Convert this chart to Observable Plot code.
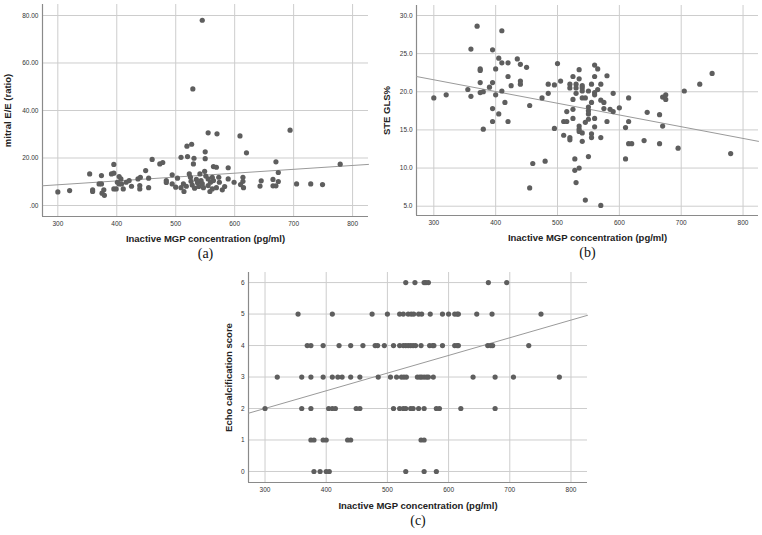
<!DOCTYPE html>
<html><head><meta charset="utf-8">
<script src="https://cdn.jsdelivr.net/npm/d3@7"></script>
<script src="https://cdn.jsdelivr.net/npm/@observablehq/plot@0.6"></script>
<style>
html,body{margin:0;padding:0;background:#fff;}
#root{position:relative;width:762px;height:535px;overflow:hidden;background:#fff;}
.panel{position:absolute;}
</style></head><body><div id="root"></div>
<script>
// ---------- Data ----------
const xLabel = "Inactive MGP concentration (pg/ml)";
const xTicks = [300, 400, 500, 600, 700, 800];

// Panel (a): mitral E/E' vs inactive MGP
const mgpA = [300,320,354,359,359,370,374,374,378,375,379,391,395,395,395,399,401,404,407,404,408,411,416,421,425,436,440,439,439,449,454,454,460,473,478,484,484,494,494,500,503,509,509,514,513,518,519,520,523,525,527,529,530,531,526,528,532,535,537,539,541,543,545,545,547,549,550,550,551,555,555,555,558,559,562,562,564,564,569,569,570,573,574,579,583,589,589,599,609,610,614,614,615,620,643,645,665,665,670,670,674,674,694,705,729,749,779];
const eeA = [5.7,6.3,13.3,6.6,5.9,9.1,9.1,12.6,6.6,5.2,4.3,13.3,13.6,17.3,7.0,7.0,9.8,12.2,11.2,9.1,9.1,7.0,9.8,10.5,8.1,11.2,11.9,8.4,7.0,14.7,11.5,7.5,19.4,17.5,18.1,10.5,9.7,12.9,9.1,7.7,11.5,7.5,20.3,5.9,9.1,8.1,25.0,20.6,13.3,11.9,25.8,49.1,17.5,19.9,10.2,8.6,7.3,11.0,9.6,8.0,13.3,10.5,78.0,9.2,7.5,14.4,22.6,19.7,12.4,30.6,11.2,8.4,5.9,9.8,11.9,7.0,10.5,16.4,16.1,7.5,30.2,11.9,9.8,6.6,8.0,15.9,11.2,9.8,29.3,8.8,10.2,11.9,7.5,22.2,8.2,10.4,11.0,8.3,8.3,18.4,13.9,10.1,31.7,9.1,9.1,8.8,17.4];
const fitAx = [274, 827];
const fitAy = [8.3, 17.3];
const yTicksA = [0, 20, 40, 60, 80];

// Panel (b): STE GLS% vs inactive MGP
const mgpB = [300,320,355,360,360,370,375,375,375,375,380,380,390,395,395,395,395,400,400,405,405,410,410,410,415,420,420,420,425,435,440,440,440,450,455,455,460,475,480,485,485,495,495,500,505,510,510,515,515,520,520,520,520,525,525,525,525,528,528,530,530,530,530,535,535,535,535,535,535,540,540,540,540,540,540,545,545,545,550,550,550,550,550,550,555,555,555,555,560,560,560,560,560,560,565,565,570,570,570,570,575,575,580,580,585,590,590,600,610,610,615,615,615,620,640,645,665,665,670,670,675,675,695,705,730,750,780];
const glsB = [19.2,19.6,20.3,25.6,19.4,28.6,23.0,22.8,21.2,19.9,20.0,15.1,20.6,25.5,21.2,17.8,16.1,23.0,19.6,24.4,17.1,28.0,23.8,20.1,18.6,23.8,22.0,16.1,20.8,24.3,23.6,21.4,21.0,23.2,18.2,7.4,10.6,19.2,10.9,21.0,19.8,20.9,15.2,23.7,21.4,14.3,16.1,17.4,16.1,21.0,20.5,14.0,13.7,22.0,19.0,16.5,17.7,11.2,9.7,21.0,20.5,19.8,8.1,22.9,21.7,15.5,15.1,14.8,10.0,20.8,20.5,20.1,19.2,14.6,13.5,19.2,16.0,5.8,18.0,17.5,17.1,20.1,16.4,11.5,21.0,18.6,14.5,14.0,23.5,22.0,19.9,19.6,16.5,15.4,23.0,20.3,21.0,18.9,14.0,5.1,18.6,17.8,22.1,16.1,17.7,19.8,17.4,17.9,15.3,11.2,19.2,16.1,13.2,13.2,13.6,17.3,17.0,13.2,19.3,15.5,19.6,19.0,12.6,20.1,21.0,22.4,11.9];
const fitBx = [272, 825];
const fitBy = [22.0, 13.5];
const yTicksB = [5, 10, 15, 20, 25, 30];

// Panel (c): Echo calcification score vs inactive MGP
const mgpScore6 = [530,545,560,563,567,665,695];
const mgpScore5 = [354,410,475,500,520,526,534,539,543,551,556,570,590,600,610,614,616,646,671,751];
const mgpScore4 = [369,375,395,421,440,460,480,484,495,510,520,526,530,534,538,542,546,555,569,574,576,590,610,614,616,664,669,672,731];
const mgpScore3 = [320,360,375,395,410,419,426,440,455,485,505,515,523,527,531,549,553,556,560,564,567,575,640,676,706,781];
const mgpScore2 = [300,360,375,404,410,415,449,455,510,520,526,530,538,542,551,560,580,585,620,676];
const mgpScore1 = [375,380,395,400,435,440,555,560];
const mgpScore0 = [380,390,400,405,530,560,580];
const fitCx = [273, 827];
const fitCy = [1.85, 4.96];
const yTicksC = [0, 1, 2, 3, 4, 5, 6];

// ---------- Drawing ----------
const SANS = "'Liberation Sans', Arial, Helvetica, sans-serif";
const SERIF = "'Liberation Serif', 'Times New Roman', serif";

function panel(cfg) {
  const data = cfg.xs.map((x, i) => ({x, y: cfg.ys[i]}));
  const fit = cfg.fitX.map((x, i) => ({x, y: cfg.fitY[i]}));
  const p = Plot.plot({
    width: cfg.width, height: cfg.height,
    marginLeft: cfg.m[0], marginTop: cfg.m[1], marginRight: cfg.m[2], marginBottom: cfg.m[3],
    x: {domain: cfg.xDomain},
    y: {domain: cfg.yDomain},
    style: {fontFamily: SANS, background: "transparent", overflow: "visible", color: "#333"},
    marks: [
      Plot.gridX(xTicks, {stroke: "#cdcdcd", strokeOpacity: 1, strokeWidth: 1}),
      Plot.gridY(cfg.yTicks, {stroke: "#cdcdcd", strokeOpacity: 1, strokeWidth: 1}),
      Plot.axisX(xTicks, {tickSize: 0, tickPadding: 5, fontSize: 6.5, fill: "#333", label: null}),
      Plot.axisY(cfg.yTicks, {tickSize: 0, tickPadding: 4, fontSize: 6.5, fill: "#333", label: null, tickFormat: cfg.yFormat}),
      Plot.ruleX([cfg.xDomain[0]], {stroke: "#8a8a8a", strokeWidth: 1.2}),
      Plot.ruleY([cfg.yDomain[0]], {stroke: "#8a8a8a", strokeWidth: 1.2}),
      Plot.line(fit, {x: "x", y: "y", stroke: "#9a9a9a", strokeWidth: 1}),
      Plot.dot(data, {x: "x", y: "y", r: 2.6, fill: "#5e5e5e", stroke: "none"}),
      Plot.text([xLabel], {frameAnchor: "bottom", dy: cfg.xLabelDy, fontWeight: "bold", fontSize: 9.5, fill: "#222"}),
      Plot.text([cfg.yLabel], {frameAnchor: "left", rotate: -90, dx: cfg.yLabelDx, textAnchor: "middle", fontWeight: "bold", fontSize: 9.5, fill: "#222"}),
      Plot.text([cfg.tag], {frameAnchor: "bottom", dy: cfg.tagDy, fontFamily: SERIF, fontSize: 14, fill: "#111"})
    ]
  });
  const wrap = document.createElement("div");
  wrap.className = "panel";
  wrap.style.left = cfg.left + "px";
  wrap.style.top = cfg.top + "px";
  wrap.appendChild(p);
  document.getElementById("root").appendChild(wrap);
}

const fmt2 = d => d === 0 ? ".00" : d.toFixed(2);
const fmt1 = d => d.toFixed(1);

panel({
  left: 0, top: 0, width: 380, height: 265, m: [42, 4, 12, 49],
  xs: mgpA, ys: eeA, fitX: fitAx, fitY: fitAy,
  xDomain: [274, 827], yDomain: [-4.63, 84.63], yTicks: yTicksA, yFormat: fmt2,
  yLabel: "mitral E/E (ratio)", yLabelDx: -35, xLabelDy: 25, tag: "(a)", tagDy: 41
});

panel({
  left: 380, top: 0, width: 382, height: 265, m: [36, 5, 4, 50],
  xs: mgpB, ys: glsB, fitX: fitBx, fitY: fitBy,
  xDomain: [272, 825], yDomain: [3.78, 31.31], yTicks: yTicksB, yFormat: fmt1,
  yLabel: "STE GLS%", yLabelDx: -30, xLabelDy: 25, tag: "(b)", tagDy: 41
});

const mgpC = [].concat(mgpScore0, mgpScore1, mgpScore2, mgpScore3, mgpScore4, mgpScore5, mgpScore6);
const scoreC = [].concat(
  mgpScore0.map(() => 0), mgpScore1.map(() => 1), mgpScore2.map(() => 2),
  mgpScore3.map(() => 3), mgpScore4.map(() => 4), mgpScore5.map(() => 5), mgpScore6.map(() => 6));

panel({
  left: 200, top: 262, width: 392, height: 273, m: [48, 10, 5, 53],
  xs: mgpC, ys: scoreC, fitX: fitCx, fitY: fitCy,
  xDomain: [273, 827], yDomain: [-0.35, 6.32], yTicks: yTicksC, yFormat: d => String(d),
  yLabel: "Echo calcification score", yLabelDx: -20, xLabelDy: 26, tag: "(c)", tagDy: 42
});
</script></body></html>
